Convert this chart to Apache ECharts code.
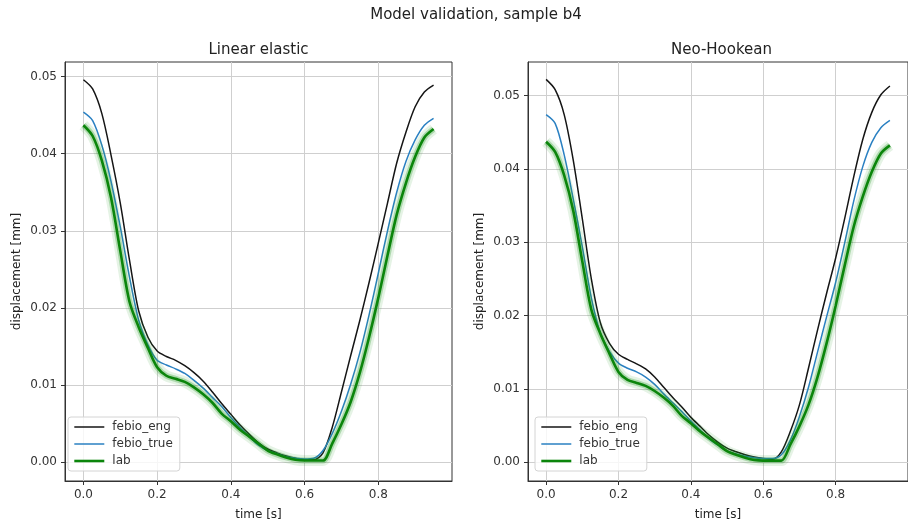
<!DOCTYPE html>
<html><head><meta charset="utf-8">
<script src="https://cdn.jsdelivr.net/npm/echarts@6/dist/echarts.min.js"></script>
<style>html,body{margin:0;padding:0;background:#fff}#c{width:908px;height:526px}</style>
</head><body><div id="c"></div>
<script>
// ---- data ----
const time = [0.000,0.025,0.050,0.075,0.100,0.125,0.150,0.175,0.200,0.225,0.250,0.275,0.300,0.325,0.350,0.375,0.400,0.425,0.450,0.475,0.500,0.525,0.550,0.575,0.600,0.625,0.650,0.675,0.700,0.725,0.750,0.775,0.800,0.825,0.850,0.875,0.900,0.925,0.950];
const linearEng  = [0.0496,0.0484,0.0452,0.0398,0.0336,0.0262,0.0196,0.0162,0.0144,0.0137,0.0132,0.0125,0.0116,0.0105,0.0091,0.0076,0.0062,0.0048,0.0036,0.0025,0.0017,0.0012,0.0008,0.0005,0.0003,0.0003,0.0012,0.0045,0.0091,0.0138,0.0184,0.0233,0.0284,0.0336,0.0388,0.0428,0.0461,0.0480,0.0489];
const linearTrue = [0.0454,0.0443,0.0411,0.0364,0.0305,0.0240,0.0184,0.0152,0.0132,0.0126,0.0121,0.0115,0.0106,0.0096,0.0084,0.0072,0.0058,0.0045,0.0033,0.0022,0.0015,0.0011,0.0007,0.0005,0.0004,0.0005,0.0015,0.0037,0.0066,0.0101,0.0142,0.0191,0.0245,0.0300,0.0350,0.0390,0.0418,0.0437,0.0446];
const neoEng     = [0.0522,0.0508,0.0474,0.0412,0.0332,0.0250,0.0190,0.0162,0.0147,0.0140,0.0134,0.0127,0.0116,0.0102,0.0088,0.0075,0.0061,0.0049,0.0037,0.0027,0.0019,0.0014,0.0010,0.0007,0.0005,0.0004,0.0014,0.0042,0.0078,0.0128,0.0180,0.0230,0.0278,0.0332,0.0389,0.0440,0.0477,0.0501,0.0513];
const neoTrue    = [0.0474,0.0462,0.0419,0.0359,0.0294,0.0224,0.0176,0.0151,0.0135,0.0128,0.0123,0.0116,0.0106,0.0093,0.0081,0.0069,0.0056,0.0044,0.0032,0.0023,0.0015,0.0011,0.0008,0.0006,0.0005,0.0005,0.0010,0.0030,0.0062,0.0102,0.0150,0.0198,0.0245,0.0299,0.0356,0.0403,0.0436,0.0456,0.0466];
const lab        = [0.0437,0.0423,0.0391,0.0343,0.0274,0.0208,0.0175,0.0148,0.0123,0.0112,0.0108,0.0104,0.0097,0.0088,0.0077,0.0063,0.0053,0.0042,0.0033,0.0024,0.0015,0.0010,0.0006,0.0003,0.0002,0.0002,0.0002,0.0024,0.0049,0.0078,0.0116,0.0162,0.0213,0.0268,0.0321,0.0362,0.0396,0.0421,0.0432];
const xTicks = [0.0,0.2,0.4,0.6,0.8];
const yTicks = [0.00,0.01,0.02,0.03,0.04,0.05];
const legendNames = ['febio_eng','febio_true','lab'];
const panelTitles = ['Linear elastic','Neo-Hookean'];
const figTitle = 'Model validation, sample b4';

// ---- chart ----
const FONT = '"DejaVu Sans", sans-serif';
const AX = '#333333';
const pair = arr => time.map((t,i)=>[t, arr[i]]);
const gridL = [65, 528], gridT = 62, gridW = 387, gridH = 421;
const yRange = [[-0.00245, 0.0519], [-0.00258, 0.05457]];

function xAx(gi){
  return {type:'value', gridIndex:gi, min:-0.05, max:1.0,
    name:'time [s]', nameLocation:'middle', nameGap:28,
    nameTextStyle:{fontFamily:FONT, fontSize:12, color:'#222'},
    axisLine:{show:true, onZero:false, lineStyle:{color:AX, width:1}},
    axisTick:{show:true, length:4, inside:false, customValues:xTicks, lineStyle:{color:AX}},
    axisLabel:{customValues:xTicks, formatter:v=>v.toFixed(1), fontFamily:FONT, fontSize:12, color:'#333', margin:8},
    splitLine:{show:true, lineStyle:{color:'#cfcfcf', width:1}}};
}
function yAx(gi){
  return {type:'value', gridIndex:gi, min:yRange[gi][0], max:yRange[gi][1],
    name:'displacement [mm]', nameLocation:'middle', nameGap:42,
    nameTextStyle:{fontFamily:FONT, fontSize:12, color:'#222'},
    axisLine:{show:true, onZero:false, lineStyle:{color:AX, width:1}},
    axisTick:{show:true, length:4, customValues:yTicks, lineStyle:{color:AX}},
    axisLabel:{customValues:yTicks, formatter:v=>v.toFixed(2), fontFamily:FONT, fontSize:12, color:'#333', margin:8},
    splitLine:{show:true, lineStyle:{color:'#cfcfcf', width:1}}};
}
function seriesFor(gi, eng, tru){
  const base = {type:'line', xAxisIndex:gi, yAxisIndex:gi, symbol:'none', animation:false,
    smooth:0.3, emphasis:{disabled:true}};
  return [
    Object.assign({}, base, {name:'febio_eng', data:pair(eng), lineStyle:{color:'#151515', width:1.5}, itemStyle:{color:'#151515'}, z:3}),
    Object.assign({}, base, {name:'febio_true', data:pair(tru), lineStyle:{color:'#2a80c2', width:1.5}, itemStyle:{color:'#2a80c2'}, z:3}),
    Object.assign({}, base, {name:'lab spread', data:pair(lab), lineStyle:{color:'#2ca02c', width:11, opacity:0.12}, itemStyle:{color:'#2ca02c'}, z:3, silent:true}),
    Object.assign({}, base, {name:'lab spread2', data:pair(lab), lineStyle:{color:'#1e961e', width:6, opacity:0.28}, itemStyle:{color:'#1e961e'}, z:3, silent:true}),
    Object.assign({}, base, {name:'lab', data:pair(lab), lineStyle:{color:'#0b850b', width:2.6}, itemStyle:{color:'#0b850b'}, z:3})
  ];
}
function legendFor(gi){
  return {orient:'vertical', left:gi ? 535 : 68, top:417, data:legendNames,
    itemWidth:30, itemHeight:14, itemGap:5, padding:[4,7,4,5],
    backgroundColor:'rgba(255,255,255,0.8)', borderColor:'#d4d4d4', borderWidth:1, borderRadius:3,
    selectedMode:false, lineStyle:{width:'inherit'}, itemStyle:{opacity:0, borderWidth:0},
    textStyle:{fontFamily:FONT, fontSize:12, color:'#333', padding:[0,0,0,3]}};
}

const option = {
  backgroundColor:'#ffffff',
  animation:false,
  textStyle:{fontFamily:FONT},
  grid:[0,1].map(gi=>({left:gridL[gi], top:gridT, width:gridW, height:gridH, show:true, borderColor:AX, borderWidth:1, backgroundColor:'transparent', containLabel:false})),
  xAxis:[xAx(0), xAx(1)],
  yAxis:[yAx(0), yAx(1)],
  legend:[legendFor(0), legendFor(1)],
  series:[...seriesFor(0, linearEng, linearTrue), ...seriesFor(1, neoEng, neoTrue)],
  graphic:[
    {type:'text', x:476, y:15, style:{text:figTitle, font:'15px "DejaVu Sans"', fill:'#222', align:'center', verticalAlign:'middle'}},
    {type:'text', x:gridL[0]+gridW/2, y:50, style:{text:panelTitles[0], font:'15px "DejaVu Sans"', fill:'#222', align:'center', verticalAlign:'middle'}},
    {type:'text', x:gridL[1]+gridW/2, y:50, style:{text:panelTitles[1], font:'15px "DejaVu Sans"', fill:'#222', align:'center', verticalAlign:'middle'}}
  ]
};
const chart = echarts.init(document.getElementById('c'), null, {renderer:'canvas'});
chart.setOption(option);
</script>
</body></html>
